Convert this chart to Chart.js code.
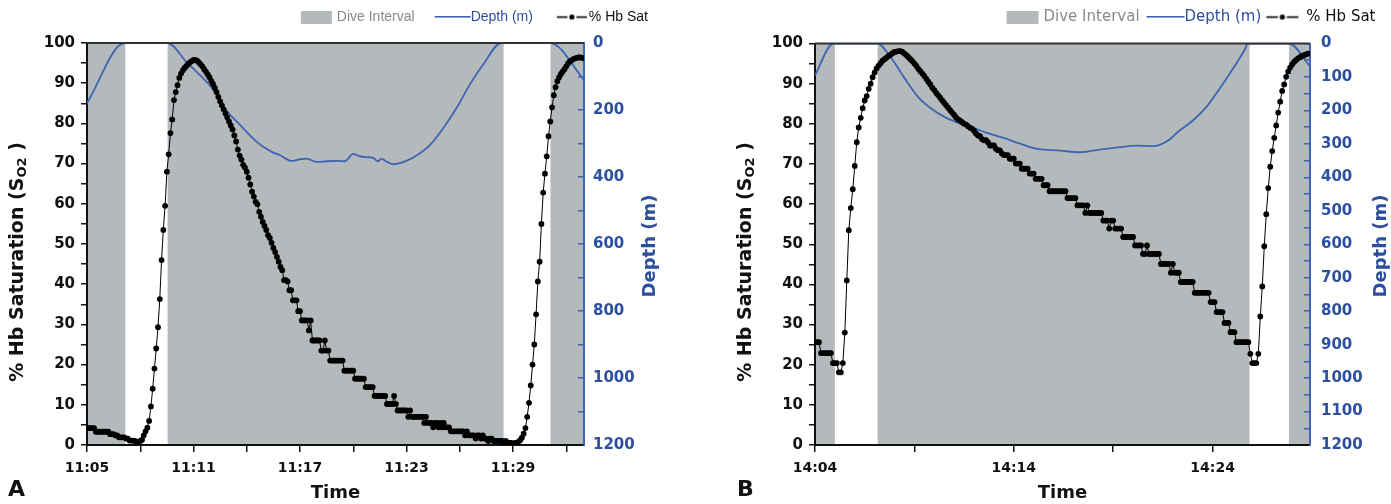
<!DOCTYPE html>
<html>
<head>
<meta charset="utf-8">
<script src="https://cdn.jsdelivr.net/npm/chart.js@4.4.1/dist/chart.umd.min.js"></script>
<style>
  html, body { margin: 0; padding: 0; background: #fff; }
  #wrap { position: relative; width: 1391px; height: 504px; }
  #chartA { position: absolute; left: 0; top: 0; }
  #chartB { position: absolute; left: 700px; top: 0; }
</style>
</head>
<body>
<div id="wrap">
  <canvas id="chartA" width="700" height="504"></canvas>
  <canvas id="chartB" width="691" height="504"></canvas>
</div>
<script>
// Hb sat is logged every 6 s (0.1 min), time axis in minutes from the first tick
const SAMPLE_MIN = 0.1;

// ---- Panel A (11:05 - 11:33) ----
const timeLabelsA = ['11:05', '11:11', '11:17', '11:23', '11:29'];
const diveStartA = [0, 4.54, 26.11];
const diveEndA = [2.16, 23.47, 28];
const depthTimeA = [0, 2.12, 4.54, 5.63, 6.0, 7.13, 7.69, 8.63, 9.56, 10.41, 10.88, 11.53, 12.0, 12.38, 12.94, 13.5,
  14.1, 14.53, 15.0, 15.3, 15.56, 16.12, 16.4, 16.59, 16.83, 17.25, 17.99, 18.74, 19.31, 20.06, 20.81, 21.56, 22.31,
  23.34, 26.11, 28];
const depthA = [180, 0, 0, 58, 77, 140, 190, 245, 295, 325, 335, 352, 347, 345, 355, 353,
  352, 353, 331, 337, 340, 343, 353, 345, 353, 362, 352, 330, 305, 255, 195, 125, 65,
  0, 0, 110];
const hbA = [
  4.2, 4.2, 4.2, 4.2, 4.2, 3.3, 3.3, 3.3, 3.3, 3.3,
  3.3, 3.3, 3.3, 2.7, 2.7, 2.7, 2.4, 2.4, 1.9, 1.9,
  1.9, 1.9, 1.6, 1.6, 1.1, 1.1, 1.1, 1.0, 0.8, 0.8,
  1.0, 1.3, 2.4, 3.4, 4.3, 6.0, 9.6, 14.0, 19.0, 24.0,
  29.3, 36.3, 46.0, 53.5, 59.5, 68.0, 72.3, 77.6, 81.0, 85.8,
  87.8, 89.5, 91.3, 92.4, 93.2, 93.8, 94.3, 94.8, 95.2, 95.5,
  95.8, 95.8, 95.6, 95.2, 94.7, 94.2, 93.5, 92.9, 92.2, 91.5,
  90.6, 89.8, 88.8, 87.8, 86.6, 85.5, 84.5, 83.5, 82.5, 81.5,
  80.5, 79.5, 78.5, 77.0, 75.5, 73.5, 72.0, 71.0, 69.7, 69.0,
  68.0, 66.5, 64.8, 63.0, 61.8, 60.5, 59.9, 58.0, 56.8, 55.5,
  54.5, 53.5, 52.2, 51.5, 50.3, 49.0, 48.0, 46.8, 45.6, 44.3,
  43.5, 41.0, 41.0, 40.7, 38.5, 38.5, 36.0, 36.0, 36.0, 33.3,
  33.3, 31.0, 31.0, 31.0, 31.0, 28.5, 31.0, 26.0, 26.0, 26.0,
  26.0, 26.0, 23.5, 23.5, 26.0, 23.5, 23.5, 21.0, 21.0, 21.0,
  21.0, 21.0, 21.0, 21.0, 21.0, 18.5, 18.5, 18.5, 18.5, 18.5,
  18.5, 16.5, 16.5, 16.5, 16.5, 16.5, 16.5, 14.4, 14.4, 14.4,
  14.4, 14.4, 12.2, 12.2, 12.2, 12.2, 12.2, 12.2, 12.2, 10.2,
  10.2, 10.2, 10.2, 12.2, 10.2, 8.6, 8.6, 8.6, 8.6, 8.6,
  8.6, 7.0, 8.6, 7.0, 7.0, 7.0, 7.0, 7.0, 7.0, 7.0,
  5.5, 7.0, 5.5, 5.5, 5.5, 4.4, 5.5, 5.5, 4.4, 5.5,
  4.4, 5.5, 4.4, 4.4, 4.4, 3.4, 3.4, 3.4, 3.4, 3.4,
  3.4, 3.4, 3.4, 2.4, 3.4, 2.4, 2.4, 2.4, 2.4, 1.6,
  2.4, 2.4, 1.6, 2.4, 1.6, 1.6, 1.0, 1.6, 1.6, 1.0,
  1.0, 1.0, 1.0, 1.0, 1.0, 0.5, 1.0, 0.5, 0.5, 0.5,
  0.3, 0.5, 0.5, 0.8, 1.2, 1.8, 2.8, 4.2, 7.0, 10.5,
  14.8, 20.0, 25.0, 32.5, 40.7, 45.6, 55.0, 62.8, 67.5, 71.8,
  76.8, 80.5, 84.0, 87.0, 89.0, 90.5, 91.5, 92.3, 92.9, 93.5,
  94.2, 94.9, 95.4, 95.7, 96.0, 96.2, 96.3, 96.4, 96.4, 96.3,
  96.2
];

// ---- Panel B (14:04 - 14:29) ----
const timeLabelsB = ['14:04', '14:14', '14:24'];
const diveStartB = [0, 3.15, 23.84];
const diveEndB = [1.0, 21.86, 24.9];
const depthTimeB = [0, 0.92, 3.15, 3.85, 4.52, 5.19, 5.86, 6.53, 7.2, 7.87, 8.54, 9.55, 10.2, 11.2, 12.31, 13.32,
  14.32, 15.33, 16.17, 17.0, 17.34, 17.84, 18.34, 19.01, 19.68, 20.35, 21.03, 21.6, 21.78, 23.84, 24.9];
const depthB = [95, 0, 0, 45, 105, 160, 195, 220, 237, 250, 265, 283, 297, 315, 320, 325,
  317, 310, 305, 307, 303, 287, 260, 230, 190, 135, 75, 20, 0, 0, 68];
const hbB = [
  25.6, 25.6, 25.6, 22.9, 22.9, 22.9, 22.9, 22.9, 22.9, 20.4,
  20.4, 20.4, 18.1, 18.1, 20.4, 28.0, 41.0, 53.5, 59.0, 63.7,
  69.5, 75.4, 79.1, 81.5, 83.9, 85.8, 86.9, 88.7, 90.0, 91.6,
  92.8, 93.8, 94.5, 95.1, 95.7, 96.1, 96.5, 96.9, 97.2, 97.6,
  97.9, 98.0, 98.1, 98.1, 97.9, 97.5, 97.1, 96.6, 96.1, 95.6,
  95.0, 94.4, 93.7, 93.1, 92.5, 91.9, 91.2, 90.5, 89.8, 89.0,
  88.4, 87.7, 87.1, 86.5, 85.8, 85.2, 84.6, 84.0, 83.4, 82.8,
  82.2, 81.6, 81.1, 80.8, 80.4, 80.0, 79.8, 79.4, 79.0, 78.8,
  78.3, 77.6, 77.1, 76.9, 76.2, 75.9, 75.9, 75.4, 74.6, 74.6,
  74.6, 73.8, 73.4, 73.4, 72.6, 72.2, 72.2, 72.2, 71.3, 71.3,
  71.3, 70.1, 70.1, 70.1, 68.8, 68.8, 68.8, 68.8, 67.6, 67.6,
  67.6, 66.3, 66.3, 66.3, 66.3, 64.7, 64.7, 64.7, 63.2, 63.2,
  63.2, 63.2, 63.2, 63.2, 63.2, 63.2, 63.2, 61.5, 61.5, 61.5,
  61.5, 61.5, 59.7, 59.7, 59.7, 59.7, 57.8, 59.7, 57.8, 57.8,
  57.8, 57.8, 57.8, 57.8, 57.8, 55.9, 55.9, 55.9, 53.9, 55.9,
  55.9, 53.9, 53.9, 53.9, 53.9, 51.8, 51.8, 51.8, 51.8, 51.8,
  51.8, 49.7, 49.7, 49.7, 49.7, 47.6, 47.6, 49.7, 47.6, 47.6,
  47.6, 47.6, 47.6, 47.6, 45.1, 45.1, 45.1, 45.1, 45.1, 42.9,
  45.1, 42.9, 42.9, 42.9, 40.6, 40.6, 40.6, 40.6, 40.6, 40.6,
  40.6, 37.9, 37.9, 37.9, 37.9, 37.9, 37.9, 37.9, 37.9, 35.6,
  35.6, 35.6, 33.1, 33.1, 33.1, 33.1, 30.4, 30.4, 30.4, 28.1,
  28.1, 28.1, 25.6, 25.6, 25.6, 25.6, 25.6, 25.6, 25.6, 22.7,
  20.4, 20.4, 20.4, 22.7, 32.0, 39.5, 49.5, 57.5, 64.0, 69.3,
  73.2, 76.5, 79.6, 82.8, 85.5, 88.2, 89.8, 91.7, 93.0, 94.0,
  94.8, 95.4, 95.9, 96.3, 96.6, 96.9, 97.1, 97.3, 97.5
];

const GRAY = '#b4b9bc';
const BLUE = '#3d65b2';
const BLUE_TEXT = '#2c4f9e';
const INK = '#111111';
const BOLD = (size) => ({ family: 'DejaVu Sans', size: size, weight: 'bold' });

// Legend symbols are small canvases. Chart.js centres them in the legend box,
// so the canvas is made wide enough that the visible part ends just before the text.
function legendIcon(boxW, half, len, gap, h, draw) {
  const c = document.createElement('canvas');
  c.width = 2 * (boxW / 2 + half + len + gap);
  c.height = h;
  draw(c.getContext('2d'), boxW + 2 * half, len, h);
  return c;
}

function makeIcons(p) {
  const half = p.legendSize / 2;
  const W = p.legendBoxW;
  return {
    dive: legendIcon(W, half, p.diveLen, 5, 13, (g, x0, len, h) => {
      g.fillStyle = GRAY; g.fillRect(x0, 0, len, h);
    }),
    depth: legendIcon(W, half, p.depthLen, 0, 2, (g, x0, len) => {
      g.fillStyle = BLUE; g.fillRect(x0, 0, len, 1.6);
    }),
    hb: legendIcon(W, half, p.hbLen, p.hbGap, 7, (g, x0, len) => {
      const dash = (len - 9) / 2;
      g.fillStyle = '#000';
      g.fillRect(x0, 2.8, dash, 1.6);
      g.fillRect(x0 + len - dash, 2.8, dash, 1.6);
      g.beginPath(); g.arc(x0 + len / 2, 3.5, 2.6, 0, Math.PI * 2); g.fill();
    })
  };
}

function drawVertical(ctx, cx, cy, parts, color) {
  ctx.save();
  ctx.translate(cx, cy);
  ctx.rotate(-Math.PI / 2);
  ctx.fillStyle = color;
  ctx.textBaseline = 'middle';
  ctx.textAlign = 'left';
  let total = 0;
  parts.forEach(pt => { ctx.font = pt.font; pt.w = ctx.measureText(pt.text).width; total += pt.w; });
  let x = -total / 2;
  parts.forEach(pt => { ctx.font = pt.font; ctx.fillText(pt.text, x, pt.dy || 0); x += pt.w; });
  ctx.restore();
}

function makeDecor(p) {
  return {
    id: 'panelDecor',
    beforeInit(chart) {
      // gap under the legend row, and pull the row in from the right edge
      const fit = chart.legend.fit;
      chart.legend.fit = function () {
        fit.call(this);
        this.height += p.legendGap;
        if (this.lineWidths && this.lineWidths.length) this.lineWidths[0] += p.legendShift;
      };
    },
    beforeDraw(chart) {
      const { ctx, chartArea: a } = chart;
      const xs = chart.scales.x;
      ctx.save();
      ctx.fillStyle = GRAY;
      p.diveStart.forEach((s, i) => {
        const x0 = xs.getPixelForValue(s);
        const x1 = xs.getPixelForValue(p.diveEnd[i]);
        ctx.fillRect(x0, a.top, x1 - x0, a.bottom - a.top);
      });
      ctx.restore();
    },
    afterDraw(chart) {
      const { ctx, chartArea: a } = chart;
      ctx.save();
      ctx.strokeStyle = '#333';
      ctx.lineWidth = 2;
      ctx.beginPath();
      ctx.moveTo(a.left, a.top);
      ctx.lineTo(a.right, a.top);
      ctx.stroke();

      drawVertical(ctx, p.leftTitleX, p.leftTitleY, [
        { text: '% Hb Saturation (S', font: 'bold 19px "DejaVu Sans"' },
        { text: 'O2', font: 'bold 13px "DejaVu Sans"', dy: 5 },
        { text: ' )', font: 'bold 19px "DejaVu Sans"' }
      ], INK);
      drawVertical(ctx, p.rightTitleX, p.rightTitleY, [
        { text: 'Depth (m)', font: 'bold 18px "DejaVu Sans"' }
      ], BLUE_TEXT);

      ctx.fillStyle = INK;
      ctx.font = 'bold 22px "DejaVu Sans"';
      ctx.textBaseline = 'middle';
      ctx.fillText(p.letter, p.letterX, 490);
      ctx.restore();
    }
  };
}

function buildChart(id, p) {
  const hbPoints = p.hb.map((v, i) => ({ x: i * SAMPLE_MIN, y: v }));
  const depthPoints = p.depthTime.map((t, i) => ({ x: t, y: p.depth[i] }));
  const icons = makeIcons(p);

  return new Chart(document.getElementById(id), {
    type: 'line',
    data: {
      datasets: [
        { label: 'Dive Interval', data: [], order: 3, legendIcon: icons.dive, legendColor: '#8a8a8a' },
        {
          label: 'Depth (m)', data: depthPoints, yAxisID: 'y1', order: 2,
          borderColor: BLUE, borderWidth: 1.8, pointRadius: 0,
          cubicInterpolationMode: 'monotone',
          legendIcon: icons.depth, legendColor: BLUE_TEXT
        },
        {
          label: '% Hb Sat', data: hbPoints, yAxisID: 'y', order: 1,
          borderColor: '#000', borderWidth: 1, pointRadius: 2.9,
          pointBackgroundColor: '#000', pointBorderWidth: 0,
          legendIcon: icons.hb, legendColor: INK
        }
      ]
    },
    options: {
      responsive: false,
      animation: false,
      layout: { padding: 0 },
      plugins: {
        tooltip: { enabled: false },
        legend: {
          align: 'end',
          labels: {
            usePointStyle: true,
            pointStyleWidth: p.legendBoxW,
            boxHeight: p.legendSize,
            padding: p.legendPad,
            font: { family: p.legendFont, size: p.legendSize },
            generateLabels: chart => chart.data.datasets.map((ds, i) => ({
              text: ds.label,
              fontColor: ds.legendColor,
              pointStyle: ds.legendIcon,
              datasetIndex: i,
              hidden: false,
              lineWidth: 0,
              strokeStyle: 'transparent',
              fillStyle: 'transparent'
            }))
          }
        }
      },
      scales: {
        x: {
          type: 'linear',
          min: 0,
          max: p.xMax,
          afterFit: s => { s.height = 59; },
          border: { color: INK, width: 2 },
          grid: { drawOnChartArea: false, color: INK, tickLength: 7, lineWidth: 1.5 },
          ticks: {
            stepSize: p.xStep,
            includeBounds: false,
            autoSkip: false,
            maxRotation: 0,
            padding: 8,
            color: INK,
            font: BOLD(14),
            callback: v => (v % p.xLabelEvery === 0 ? p.timeLabels[v / p.xLabelEvery] : '')
          },
          title: { display: true, text: 'Time', color: INK, font: BOLD(18), padding: { top: 0, bottom: 0 } }
        },
        y: {
          position: 'left',
          min: 0,
          max: 100,
          afterFit: s => { s.width = p.left; },
          border: { color: INK, width: 2 },
          grid: { drawOnChartArea: false, color: INK, tickLength: 6, lineWidth: 1.5 },
          ticks: {
            stepSize: 5,
            autoSkip: false,
            padding: 6,
            color: INK,
            font: BOLD(15),
            callback: v => (v % 10 === 0 ? v : '')
          }
        },
        y1: {
          position: 'right',
          reverse: true,
          min: 0,
          max: 1200,
          afterFit: s => { s.width = p.width - p.right; },
          border: { color: BLUE, width: 2 },
          grid: { drawOnChartArea: false, color: BLUE, tickLength: -6, lineWidth: 1.5 },
          ticks: {
            stepSize: p.depthStep,
            autoSkip: false,
            padding: p.rightPad,
            color: BLUE_TEXT,
            font: BOLD(15),
            callback: v => (v % p.depthLabelEvery === 0 ? v : '')
          }
        }
      }
    },
    plugins: [makeDecor(p)]
  });
}

buildChart('chartA', {
  hb: hbA, depthTime: depthTimeA, depth: depthA,
  diveStart: diveStartA, diveEnd: diveEndA, timeLabels: timeLabelsA,
  xMax: 28, xStep: 3, xLabelEvery: 6, depthStep: 100, depthLabelEvery: 200,
  width: 700, left: 87, right: 584, rightPad: 15,
  legendFont: 'Liberation Sans', legendSize: 14, legendPad: 10, legendBoxW: 39,
  legendGap: 9, legendShift: 42, diveLen: 31, depthLen: 36, hbLen: 30, hbGap: 2,
  leftTitleX: 18, leftTitleY: 262, rightTitleX: 650, rightTitleY: 246,
  letter: 'A', letterX: 8
});

buildChart('chartB', {
  hb: hbB, depthTime: depthTimeB, depth: depthB,
  diveStart: diveStartB, diveEnd: diveEndB, timeLabels: timeLabelsB,
  xMax: 24.9, xStep: 5, xLabelEvery: 10, depthStep: 50, depthLabelEvery: 100,
  width: 691, left: 115, right: 610, rightPad: 17,
  legendFont: 'DejaVu Sans', legendSize: 15, legendPad: 9.5, legendBoxW: 28,
  legendGap: 9, legendShift: 6, diveLen: 32, depthLen: 38, hbLen: 32, hbGap: 8,
  leftTitleX: 46, leftTitleY: 262, rightTitleX: 681, rightTitleY: 246,
  letter: 'B', letterX: 37
});
</script>
</body>
</html>
